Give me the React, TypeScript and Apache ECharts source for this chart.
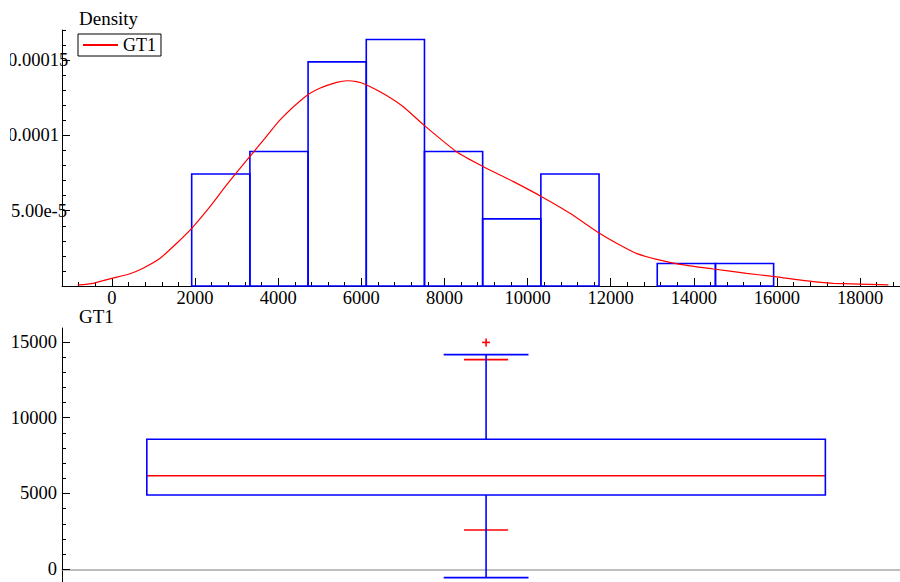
import React, { useEffect, useRef } from "react";
import * as echarts from "echarts";

// ---------- data ----------
const binEdges = [1920, 3320, 4720, 6120, 7520, 8920, 10320, 11720, 13120, 14520, 15920];
const binDensity = [7.44e-5, 8.93e-5, 1.488e-4, 1.637e-4, 8.93e-5, 4.46e-5, 7.44e-5, 0, 1.49e-5, 1.49e-5];

const kdeX = [
  -820, -450, 0, 400, 750, 1160, 1560, 1920, 2360, 2760, 3320, 3680, 4040, 4650, 5000, 5410,
  5650, 5890, 6130, 6610, 7010, 7520, 8300, 8940, 9660, 10340, 11020, 11730,
  12220, 12630, 13110, 13670, 14470, 15270, 15940, 16870, 17360, 18680,
];
const kdeY = [
  0.7e-6, 1.8e-6, 5.1e-6, 7.8e-6, 1.18e-5, 1.84e-5, 2.84e-5, 3.83e-5, 5.27e-5, 6.71e-5,
  8.6e-5, 9.8e-5, 1.102e-4, 1.257e-4, 1.313e-4, 1.352e-4, 1.363e-4, 1.357e-4, 1.335e-4, 1.265e-4,
  1.19e-4, 1.065e-4, 8.9e-5, 7.92e-5, 6.93e-5, 5.93e-5, 4.83e-5, 3.5e-5,
  2.72e-5, 2.15e-5, 1.77e-5, 1.44e-5, 1.13e-5, 8.4e-6, 6.2e-6, 2.9e-6, 1.8e-6, 0.7e-6,
];

const seriesName = "GT1";
const xMajorTicks = [0, 2000, 4000, 6000, 8000, 10000, 12000, 14000, 16000, 18000];
const yTopLabelValues = [5e-5, 1e-4, 1.5e-4];
const yTopLabelTexts = ["5.00e-5", "0.0001", "0.00015"];
const yTopMajorTicks = [0, 5e-5, 1e-4, 1.5e-4];
const yBottomTicks = [0, 5000, 10000, 15000];

// box plot statistics (GT1)
const lowerWhisker = [-550];
const lowerMark = [2590];
const q1 = [4900];
const median = [6170];
const q3 = [8580];
const upperMark = [13830];
const upperWhisker = [14160];
const outliers = [14970];

// ---------- helpers ----------
const FONT = "Liberation Serif";
const LABEL_SIZE = 18.5;
const xMinorTicks: number[] = [];
for (let v = -800; v <= 18800; v += 400) xMinorTicks.push(v);
const yTopMinorTicks: number[] = [];
for (let k = 0; k <= 17; k++) yTopMinorTicks.push(k * 1e-5);
const yBottomMinorTicks: number[] = [];
for (let v = 0; v <= 15000; v += 1000) yBottomMinorTicks.push(v);

const BLUE = "#0000ff";
const RED = "#ff0000";
const plain = (v: number) => String(Math.round(v));

export default function App() {
  const ref = useRef<HTMLDivElement>(null);

  useEffect(() => {
    if (!ref.current) return;
    const chart = echarts.init(ref.current, undefined, { renderer: "svg" });

    const textStyle = { fontFamily: FONT, fontSize: 19, lineHeight: 16, color: "#000", fontWeight: "normal" as const };

    const option: any = {
      animation: false,
      backgroundColor: "#fff",
      textStyle: { fontFamily: FONT },
      title: [
        { text: "Density", left: 79, top: 10, padding: 0, textStyle },
        { text: seriesName, left: 79, top: 308, padding: 0, textStyle },
      ],
      legend: {
        data: [seriesName],
        left: 78,
        top: 34,
        borderColor: "#000",
        borderWidth: 1,
        borderRadius: 0,
        padding: [2, 5, 2, 5],
        itemWidth: 35,
        itemHeight: 2,
        icon: "rect",
        backgroundColor: "#fff",
        textStyle: { fontFamily: FONT, fontSize: 18, color: "#000" },
      },
      grid: [
        { left: 62, top: 30, width: 838, height: 256 },
        { left: 62, top: 328, width: 838, height: 254 },
      ],
      xAxis: [
        {
          gridIndex: 0,
          type: "value",
          position: "bottom",
          min: -1200,
          max: 18960,
          axisLine: { show: true, onZero: true, lineStyle: { color: "#000", width: 1 } },
          axisTick: { show: true, inside: true, length: 8, customValues: xMajorTicks, lineStyle: { color: "#000" } },
          axisLabel: {
            customValues: xMajorTicks,
            margin: 4,
            lineHeight: 16,
            fontFamily: FONT,
            fontSize: LABEL_SIZE,
            color: "#000",
            formatter: plain,
          },
          splitLine: { show: false },
        },
        {
          gridIndex: 0,
          type: "value",
          position: "bottom",
          min: -1200,
          max: 18960,
          axisLine: { show: false },
          axisTick: { show: true, inside: true, length: 4, customValues: xMinorTicks, lineStyle: { color: "#000" } },
          axisLabel: { show: false },
          splitLine: { show: false },
        },
        {
          gridIndex: 1,
          type: "value",
          position: "bottom",
          min: -0.5,
          max: 0.488,
          axisLine: { show: true, onZero: true, lineStyle: { color: "#a8a8a8", width: 1.5 } },
          axisTick: { show: false },
          axisLabel: { show: false },
          splitLine: { show: false },
        },
      ],
      yAxis: [
        {
          gridIndex: 0,
          type: "value",
          position: "left",
          min: 0,
          max: 1.7e-4,
          axisLine: { show: true, onZero: false, lineStyle: { color: "#000", width: 1 } },
          axisTick: { show: true, inside: true, length: 8, customValues: yTopMajorTicks, lineStyle: { color: "#000" } },
          axisLabel: {
            customValues: yTopLabelValues,
            align: "left",
            margin: 54,
            fontFamily: FONT,
            fontSize: LABEL_SIZE,
            color: "#000",
            formatter: (v: number) => {
              const i = yTopLabelValues.findIndex((x) => Math.abs(x - v) < 1e-12);
              if (i < 0) return "";
              return i === 0 ? "{p|" + yTopLabelTexts[i] + "}" : yTopLabelTexts[i];
            },
            rich: { p: { fontFamily: FONT, fontSize: LABEL_SIZE, color: "#000", padding: [0, 0, 0, 3] } },
          },
          splitLine: { show: false },
        },
        {
          gridIndex: 0,
          type: "value",
          position: "left",
          min: 0,
          max: 1.7e-4,
          axisLine: { show: false, onZero: false },
          axisTick: { show: true, inside: true, length: 4, customValues: yTopMinorTicks, lineStyle: { color: "#000" } },
          axisLabel: { show: false },
          splitLine: { show: false },
        },
        {
          gridIndex: 1,
          type: "value",
          position: "left",
          min: -840,
          max: 15920,
          axisLine: { show: true, onZero: false, lineStyle: { color: "#000", width: 1 } },
          axisTick: { show: true, inside: true, length: 8, customValues: yBottomTicks, lineStyle: { color: "#000" } },
          axisLabel: { customValues: yBottomTicks, margin: 5, fontFamily: FONT, fontSize: LABEL_SIZE, color: "#000", formatter: plain },
          splitLine: { show: false },
        },
        {
          gridIndex: 1,
          type: "value",
          position: "left",
          min: -840,
          max: 15920,
          axisLine: { show: false, onZero: false },
          axisTick: { show: true, inside: true, length: 4, customValues: yBottomMinorTicks, lineStyle: { color: "#000" } },
          axisLabel: { show: false },
          splitLine: { show: false },
        },
      ],
      series: [
        {
          type: "custom",
          name: "histogram",
          xAxisIndex: 0,
          yAxisIndex: 0,
          silent: true,
          data: binDensity.map((d, i) => [binEdges[i], binEdges[i + 1], d]),
          encode: { x: [0, 1], y: 2 },
          renderItem: (_params: any, api: any) => {
            const x0 = api.value(0);
            const x1 = api.value(1);
            const d = api.value(2);
            if (!d) return { type: "group", children: [] };
            const p0 = api.coord([x0, 0]);
            const p1 = api.coord([x1, d]);
            return {
              type: "rect",
              shape: { x: p0[0], y: p1[1], width: p1[0] - p0[0], height: p0[1] - p1[1] },
              style: { fill: "none", stroke: BLUE, lineWidth: 1.6 },
            };
          },
          z: 2,
        },
        {
          type: "line",
          name: seriesName,
          xAxisIndex: 0,
          yAxisIndex: 0,
          data: kdeX.map((x, i) => [x, kdeY[i]]),
          symbol: "none",
          smooth: 0.2,
          lineStyle: { color: RED, width: 1.2 },
          itemStyle: { color: RED },
          z: 3,
        },
        {
          type: "custom",
          name: "box",
          xAxisIndex: 2,
          yAxisIndex: 2,
          silent: true,
          data: [[0, lowerWhisker[0], lowerMark[0], q1[0], median[0], q3[0], upperMark[0], upperWhisker[0]]],
          encode: { x: 0, y: [1, 2, 3, 4, 5, 6, 7] },
          renderItem: (_params: any, api: any) => {
            const c = api.value(0);
            const pt = (dx: number, k: number) => api.coord([c + dx, api.value(k)]);
            const hline = (half: number, k: number, color: string) => {
              const a = pt(-half, k);
              const b = pt(half, k);
              return {
                type: "line",
                shape: { x1: a[0], y1: a[1], x2: b[0], y2: b[1] },
                style: { stroke: color, lineWidth: 1.6 },
              };
            };
            const vline = (k1: number, k2: number) => {
              const a = pt(0, k1);
              const b = pt(0, k2);
              return {
                type: "line",
                shape: { x1: a[0], y1: a[1], x2: b[0], y2: b[1] },
                style: { stroke: BLUE, lineWidth: 1.6 },
              };
            };
            const bl = pt(-0.4, 3);
            const tr = pt(0.4, 5);
            return {
              type: "group",
              children: [
                hline(0.026, 2, RED),
                hline(0.026, 6, RED),
                vline(1, 3),
                vline(5, 7),
                hline(0.05, 1, BLUE),
                hline(0.05, 7, BLUE),
                hline(0.4, 4, RED),
                {
                  type: "rect",
                  shape: { x: bl[0], y: tr[1], width: tr[0] - bl[0], height: bl[1] - tr[1] },
                  style: { fill: "none", stroke: BLUE, lineWidth: 1.6 },
                },
              ],
            };
          },
          z: 2,
        },
        {
          type: "custom",
          name: "outliers",
          xAxisIndex: 2,
          yAxisIndex: 2,
          silent: true,
          data: outliers.map((v) => [0, v]),
          encode: { x: 0, y: 1 },
          renderItem: (_params: any, api: any) => {
            const p = api.coord([api.value(0), api.value(1)]);
            return {
              type: "group",
              children: [
                { type: "line", shape: { x1: p[0] - 4, y1: p[1], x2: p[0] + 4, y2: p[1] }, style: { stroke: RED, lineWidth: 1.6 } },
                { type: "line", shape: { x1: p[0], y1: p[1] - 4, x2: p[0], y2: p[1] + 4 }, style: { stroke: RED, lineWidth: 1.6 } },
              ],
            };
          },
          z: 3,
        },
      ],
      graphic: [
        {
          type: "rect",
          x: 0,
          y: 38,
          shape: { x: 0, y: 0, width: 10, height: 190 },
          style: { fill: "#fff" },
          z: 100,
          silent: true,
        },
      ],
    };

    chart.setOption(option);
    return () => chart.dispose();
  }, []);

  return <div ref={ref} style={{ position: "absolute", left: 0, top: 0, width: 900, height: 582 }} />;
}
